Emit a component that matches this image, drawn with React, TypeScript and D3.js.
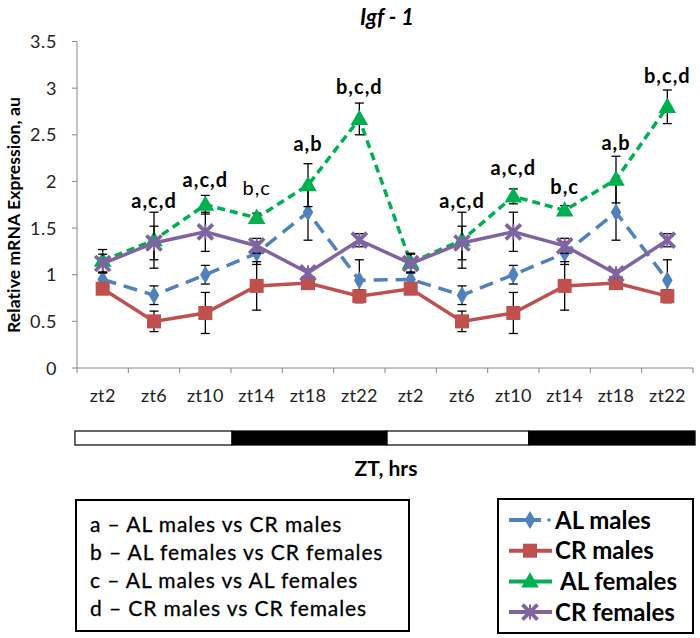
import React from "react";
import * as d3 from "d3";

const categories = ["zt2", "zt6", "zt10", "zt14", "zt18", "zt22", "zt2", "zt6", "zt10", "zt14", "zt18", "zt22"];

const alMales = [0.95, 0.78, 1.0, 1.23, 1.67, 0.94, 0.95, 0.78, 1.0, 1.23, 1.67, 0.94];
const alMalesErr = [0.07, 0.1, 0.1, 0.12, 0.3, 0.22, 0.07, 0.1, 0.1, 0.12, 0.3, 0.22];
const crMales = [0.85, 0.5, 0.59, 0.88, 0.91, 0.77, 0.85, 0.5, 0.59, 0.88, 0.91, 0.77];
const crMalesErr = [0.04, 0.11, 0.22, 0.26, 0.04, 0.07, 0.04, 0.11, 0.22, 0.26, 0.04, 0.07];
const alFemales = [1.15, 1.37, 1.75, 1.61, 1.96, 2.67, 1.13, 1.37, 1.84, 1.69, 2.02, 2.8];
const alFemalesErr = [0.12, 0.3, 0.1, 0.05, 0.23, 0.17, 0.1, 0.3, 0.08, 0.05, 0.25, 0.18];
const crFemales = [1.12, 1.34, 1.46, 1.31, 1.02, 1.37, 1.12, 1.34, 1.46, 1.31, 1.01, 1.37];
const crFemalesErr = [0.1, 0.18, 0.21, 0.08, 0.04, 0.07, 0.1, 0.18, 0.21, 0.08, 0.04, 0.07];

const sigLabels = ["", "a,c,d", "a,c,d", "b,c", "a,b", "b,c,d", "", "a,c,d", "a,c,d", "b,c", "a,b", "b,c,d"];
const sigBold = [true, true, true, false, true, true, true, true, true, true, true, true];
const sigLevel = [0, 1.72, 1.94, 1.85, 2.33, 2.94, 0, 1.72, 2.07, 1.87, 2.34, 3.06];

const yTicks = [0, 0.5, 1, 1.5, 2, 2.5, 3, 3.5];

// light/dark phases in category units
const phaseStart = [-0.04, 3.02, 6.04, 8.8];
const phaseEnd = [3.02, 6.04, 8.8, 12.04];
const phaseLight = [true, false, true, false];

const keyLines = [
  "a \u2013 AL males vs CR males",
  "b \u2013 AL females vs CR females",
  "c \u2013 AL males vs AL females",
  "d \u2013 CR males vs CR females",
];

const seriesNames = ["AL males", "CR males", "AL females", "CR females"];
const seriesColors = ["#4F81BD", "#C0504D", "#00B050", "#8064A2"];
const seriesDash = ["14,8", "", "8,5", ""];
const seriesShape = ["diamond", "square", "triangle", "star"];

const FONT = "Lato, 'Open Sans', sans-serif";

function Marker({ shape, x, y, color }: { shape: string; x: number; y: number; color: string }) {
  if (shape === "diamond") {
    const p = d3.symbol().type(d3.symbolDiamond).size(95)();
    return <path d={p || ""} transform={`translate(${x},${y})`} fill={color} />;
  }
  if (shape === "square") {
    const s = 14;
    return <rect x={x - s / 2} y={y - s / 2} width={s} height={s} fill={color} />;
  }
  if (shape === "triangle") {
    const p = d3.symbol().type(d3.symbolTriangle).size(135)();
    return <path d={p || ""} transform={`translate(${x},${y + 1})`} fill={color} />;
  }
  const r = 7.5;
  return (
    <g transform={`translate(${x},${y})`} stroke={color} strokeWidth={3.8} strokeLinecap="butt">
      <line x1={-r} y1={-r} x2={r} y2={r} />
      <line x1={-r} y1={r} x2={r} y2={-r} />
      <line x1={0} y1={-r} x2={0} y2={r} strokeWidth={2} />
    </g>
  );
}

export default function App() {
  const width = 700;
  const height = 638;
  const x0 = 77;
  const x1 = 693;
  const yBottom = 368;
  const yTop = 41.5;

  const idx = categories.map((_, i) => i);
  const x = d3.scaleBand<number>().domain(idx).range([x0, x1]).padding(0);
  const bw = x.bandwidth();
  const cx = (i: number) => (x(i) as number) + bw / 2;
  const y = d3.scaleLinear().domain([0, 3.5]).range([yBottom, yTop]);
  const u = d3.scaleLinear().domain([0, 12]).range([x0, x1]);

  const series = [
    { v: alMales, e: alMalesErr },
    { v: crMales, e: crMalesErr },
    { v: alFemales, e: alFemalesErr },
    { v: crFemales, e: crFemalesErr },
  ];

  const line = d3
    .line<number>()
    .x((_, i) => cx(i))
    .y((d) => y(d));

  const axisColor = "#868686";
  const legendLineEnd = [541, 552, 552, 552];

  return (
    <svg
      width={width}
      height={height}
      style={{ position: "absolute", left: 0, top: 0, background: "#fff" }}
      fontFamily={FONT}
    >
      <rect x={0} y={0} width={width} height={height} fill="#fff" />
      {/* title */}
      <text x={387} y={25} textAnchor="middle" fontSize={22} fontWeight="bold" fontStyle="italic">
        Igf - 1
      </text>

      {/* y axis */}
      <line x1={x0} y1={yTop} x2={x0} y2={yBottom} stroke={axisColor} strokeWidth={1} />
      {yTicks.map((t) => (
        <g key={t}>
          <line x1={x0 - 5} x2={x0} y1={y(t)} y2={y(t)} stroke={axisColor} />
          <text x={x0 - 20} y={y(t) + 6.5} textAnchor="end" fontSize={18} letterSpacing={0.6} fill="#222">
            {String(t)}
          </text>
        </g>
      ))}
      <text
        transform={`translate(20,215) rotate(-90)`}
        textAnchor="middle"
        fontSize={17.5}
        fontWeight="bold"
        letterSpacing={0.1}
      >
        Relative mRNA Expression, au
      </text>

      {/* x axis */}
      <line x1={x0} x2={x1} y1={yBottom} y2={yBottom} stroke={axisColor} />
      {d3.range(13).map((k) => (
        <line key={k} x1={u(k)} x2={u(k)} y1={yBottom} y2={yBottom + 5} stroke={axisColor} />
      ))}
      {categories.map((c, i) => (
        <text key={i} x={cx(i)} y={402} textAnchor="middle" fontSize={18} letterSpacing={0.3} fill="#222">
          {c}
        </text>
      ))}

      {/* series: lines, error bars, markers */}
      {series.map((s, si) => (
        <g key={si}>
          <path
            d={line(s.v) || ""}
            fill="none"
            stroke={seriesColors[si]}
            strokeWidth={3.5}
            strokeDasharray={seriesDash[si] || undefined}
          />
          {s.v.map((v, i) => (
            <g key={i} stroke="#000" strokeWidth={1.3}>
              <line x1={cx(i)} x2={cx(i)} y1={y(v - s.e[i])} y2={y(v + s.e[i])} />
              <line x1={cx(i) - 4.5} x2={cx(i) + 4.5} y1={y(v - s.e[i])} y2={y(v - s.e[i])} />
              <line x1={cx(i) - 4.5} x2={cx(i) + 4.5} y1={y(v + s.e[i])} y2={y(v + s.e[i])} />
            </g>
          ))}
          {s.v.map((v, i) => (
            <Marker key={i} shape={seriesShape[si]} x={cx(i)} y={y(v)} color={seriesColors[si]} />
          ))}
        </g>
      ))}

      {/* significance labels */}
      {sigLabels.map((l, i) =>
        l ? (
          <text
            key={i}
            x={cx(i)}
            y={y(sigLevel[i])}
            textAnchor="middle"
            fontSize={20}
            letterSpacing={1}
            fontWeight={sigBold[i] ? "bold" : "normal"}
            fill="#000"
          >
            {l}
          </text>
        ) : null
      )}

      {/* light/dark bar */}
      {phaseStart.map((s, k) => (
        <rect
          key={k}
          x={u(s)}
          y={431}
          width={u(phaseEnd[k]) - u(s)}
          height={14}
          fill={phaseLight[k] ? "#fff" : "#000"}
          stroke="#000"
          strokeWidth={1.2}
        />
      ))}
      <text x={386} y={476} textAnchor="middle" fontSize={21} fontWeight="bold">
        ZT, hrs
      </text>

      {/* key box */}
      <rect x={76} y={500} width={333} height={131} fill="#fff" stroke="#000" strokeWidth={2} />
      {keyLines.map((t, k) => (
        <text key={k} x={90} y={532 + k * 28} fontSize={21} letterSpacing={0.9} fill="#000" stroke="#000" strokeWidth={0.3}>
          {t}
        </text>
      ))}

      {/* series legend */}
      <rect x={498} y={499} width={195} height={134} fill="#fff" stroke="#000" strokeWidth={2} />
      {seriesNames.map((n, k) => {
        const ly = 520 + k * 30.7;
        return (
          <g key={k}>
            <line
              x1={509}
              x2={legendLineEnd[k]}
              y1={ly}
              y2={ly}
              stroke={seriesColors[k]}
              strokeWidth={4}
            />
            {k === 0 ? <circle cx={549} cy={ly} r={1.8} fill={seriesColors[0]} /> : null}
            <Marker shape={seriesShape[k]} x={530} y={ly} color={seriesColors[k]} />
            <text x={k === 2 ? 560 : 555} y={ly + 8.5} fontSize={24} fontWeight="bold" fill="#000">
              {n}
            </text>
          </g>
        );
      })}
    </svg>
  );
}
